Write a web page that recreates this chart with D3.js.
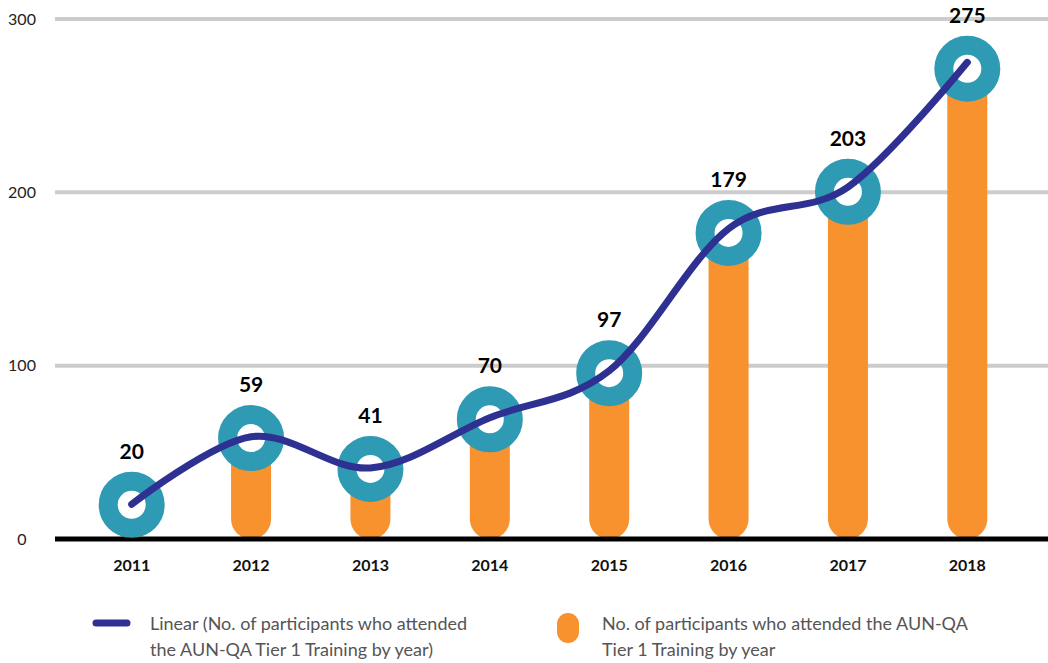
<!DOCTYPE html>
<html>
<head>
<meta charset="utf-8">
<script src="https://cdn.jsdelivr.net/npm/d3@7"></script>
<style>
  body { margin: 0; background: #fff; }
  svg { display: block; font-family: "Source Sans Pro", Lato, "Noto Sans", sans-serif; }
</style>
</head>
<body>
<script>
// chart data
const years = ["2011", "2012", "2013", "2014", "2015", "2016", "2017", "2018"];
const participants = [20, 59, 41, 70, 97, 179, 203, 275];
const yTicks = [0, 100, 200, 300];
const lineLabel = ["Linear (No. of participants who attended", "the AUN-QA Tier 1 Training by year)"];
const barLabel = ["No. of participants who attended the AUN-QA", "Tier 1 Training by year"];

const data = years.map((y, i) => ({ year: y, value: participants[i] }));

let width = 1048;
let height = 663;
let gridLeft = 55;

let x = d3.scalePoint()
    .domain(years)
    .range([72, 1027])
    .padding(0.5);

// axis / trend line scale
let y = d3.scaleLinear()
    .domain([0, 300])
    .range([539, 19]);

// bars + markers sit on their own (slightly shorter) scale, as in the original overlay
let yBar = d3.scaleLinear()
    .domain([0, 300])
    .range([539, 26]);

let svg = d3.select("body").append("svg")
    .attr("width", width)
    .attr("height", height)
    .attr("viewBox", [0, 0, width, height]);

// gridlines + y tick labels
svg.append("g")
    .selectAll("line")
    .data(yTicks.filter(d => d > 0))
    .join("line")
    .attr("x1", gridLeft)
    .attr("x2", width)
    .attr("y1", d => y(d))
    .attr("y2", d => y(d))
    .attr("stroke", "#cccccc")
    .attr("stroke-width", 4);

svg.append("g")
    .selectAll("text")
    .data(yTicks)
    .join("text")
    .attr("x", 22)
    .attr("y", d => y(d))
    .attr("dy", "0.35em")
    .attr("text-anchor", "middle")
    .attr("fill", "#222")
    .style("font-size", "16px")
    .text(d => d);

// bars with rounded bottom
const barW = 40, r = barW / 2;
svg.append("g")
    .attr("fill", "#F7922F")
    .selectAll("path")
    .data(data)
    .join("path")
    .attr("d", d => {
      const cx = x(d.year), top = yBar(d.value), bot = yBar(0);
      return `M${cx - r},${top} H${cx + r} V${bot - r} A${r},${r} 0 0 1 ${cx - r},${bot - r} Z`;
    });

// baseline
svg.append("line")
    .attr("x1", gridLeft)
    .attr("x2", width)
    .attr("y1", y(0))
    .attr("y2", y(0))
    .attr("stroke", "#000")
    .attr("stroke-width", 5);

// ring markers
svg.append("g")
    .selectAll("circle")
    .data(data)
    .join("circle")
    .attr("cx", d => x(d.year))
    .attr("cy", d => yBar(d.value))
    .attr("r", 23.5)
    .attr("fill", "#fff")
    .attr("stroke", "#2E9AB4")
    .attr("stroke-width", 19);

// trend curve (smoothed like the spreadsheet line)
const line = d3.line()
    .x(d => x(d.year))
    .y(d => y(d.value))
    .curve(d3.curveCardinal.tension(0));

svg.append("path")
    .datum(data)
    .attr("d", line)
    .attr("fill", "none")
    .attr("stroke", "#2E3192")
    .attr("stroke-width", 7)
    .attr("stroke-linecap", "round");

// value labels
svg.append("g")
    .selectAll("text")
    .data(data)
    .join("text")
    .attr("x", d => x(d.year))
    .attr("y", d => yBar(d.value) - 46)
    .attr("text-anchor", "middle")
    .attr("font-weight", "bold")
    .attr("fill", "#000")
    .style("font-size", "21px")
    .text(d => d.value);

// x labels
svg.append("g")
    .selectAll("text")
    .data(years)
    .join("text")
    .attr("x", d => x(d))
    .attr("y", 565)
    .attr("dy", "0.35em")
    .attr("text-anchor", "middle")
    .attr("font-weight", "bold")
    .attr("fill", "#111")
    .style("font-size", "16px")
    .text(d => d);

// legend
const legend = svg.append("g").attr("fill", "#555").style("font-size", "18px");

legend.append("line")
    .attr("x1", 96).attr("x2", 127)
    .attr("y1", 623).attr("y2", 623)
    .attr("stroke", "#2E3192")
    .attr("stroke-width", 7)
    .attr("stroke-linecap", "round");

legend.append("rect")
    .attr("x", 557).attr("y", 613)
    .attr("width", 22).attr("height", 30)
    .attr("rx", 11)
    .attr("fill", "#F7922F");

[[150, lineLabel], [602, barLabel]].forEach(([lx, lines]) => {
  legend.append("g")
      .selectAll("text")
      .data(lines)
      .join("text")
      .attr("x", lx)
      .attr("y", (d, i) => 624 + i * 26)
      .attr("dy", "0.35em")
      .text(d => d);
});
</script>
</body>
</html>
